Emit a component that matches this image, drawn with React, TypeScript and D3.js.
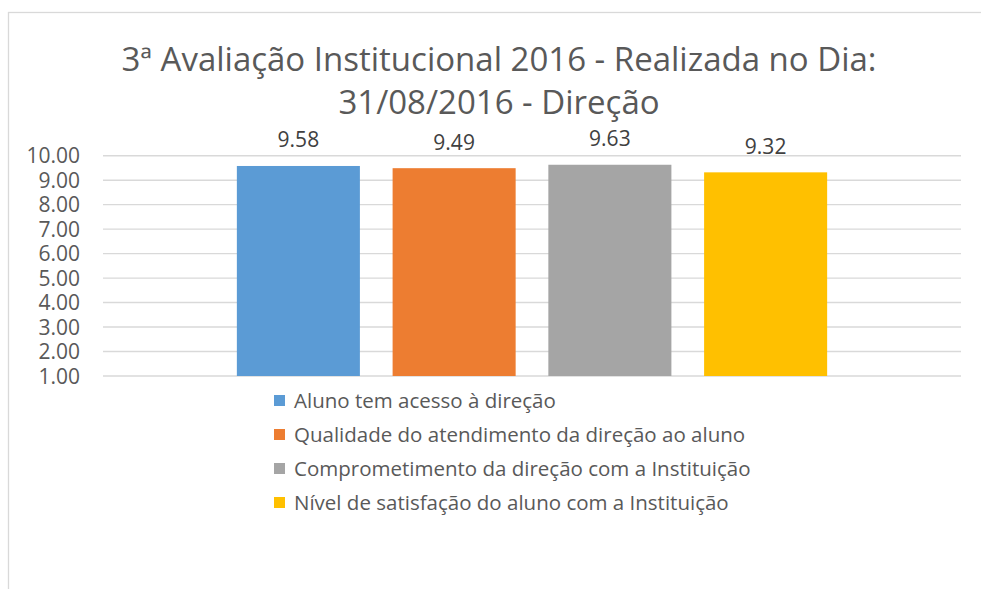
import React from 'react';
import { scaleBand, scaleLinear, range, format } from 'd3';

const titleLines = ['3ª Avaliação Institucional 2016 - Realizada no Dia:', '31/08/2016 - Direção'];
const seriesNames = [
    'Aluno tem acesso à direção',
    'Qualidade do atendimento da direção ao aluno',
    'Comprometimento da direção com a Instituição',
    'Nível de satisfação do aluno com a Instituição'
];
const seriesValues = [9.58, 9.49, 9.63, 9.32];
const seriesColors = ['#5B9BD5', '#ED7D31', '#A5A5A5', '#FFC000'];
const yTicks = range(1, 11);

const W = 981;
const H = 589;
const font = '"Open Sans", "Noto Sans", sans-serif';

const App = () => {
    const plotLeft = 103;
    const plotRight = 961;
    const plotTop = 155.7;
    const plotBottom = 376;

    const y = scaleLinear().domain([1, 10]).range([plotBottom, plotTop]);
    const x = scaleBand<string>()
        .domain(seriesNames)
        .range([220.5, 843.5])
        .paddingInner(0.21)
        .paddingOuter(0.105);
    const fmt = format('.2f');

    return (
        <svg width={W} height={H} style={{ position: 'absolute', left: 0, top: 0 }} fontFamily={font}>
            <rect x={0} y={0} width={W} height={H} fill="#fff" />
            <rect x={8.5} y={12.5} width={1100} height={700} fill="none" stroke="#d9d9d9" strokeWidth={1.3} />

            {/* title */}
            {titleLines.map((t, i) => (
                <text key={t} x={499} y={71 + i * 43} textAnchor="middle" fontSize={33} fill="#595959">{t}</text>
            ))}

            {/* gridlines + y ticks */}
            {yTicks.map((t) => (
                <g key={t}>
                    <line x1={plotLeft} x2={plotRight} y1={y(t)} y2={y(t)} stroke="#d9d9d9" strokeWidth={1.4} />
                    <text x={80} y={y(t)} dy="0.36em" textAnchor="end" fontSize={21} fill="#595959">{fmt(t)}</text>
                </g>
            ))}

            {/* bars */}
            {seriesNames.map((s, i) => (
                <g key={s}>
                    <rect
                        x={x(s)}
                        width={x.bandwidth()}
                        y={y(seriesValues[i])}
                        height={plotBottom - y(seriesValues[i])}
                        fill={seriesColors[i]}
                    />
                    <text
                        x={(x(s) as number) + x.bandwidth() / 2}
                        y={y(seriesValues[i]) - 18.5}
                        textAnchor="middle"
                        fontSize={21}
                        fill="#404040"
                    >
                        {seriesValues[i].toFixed(2)}
                    </text>
                </g>
            ))}

            {/* legend */}
            {seriesNames.map((s, i) => (
                <g key={s} transform={`translate(274, ${401 + i * 34})`}>
                    <rect x={0} y={-6} width={11} height={11} fill={seriesColors[i]} />
                    <text x={20} y={0} dy="0.36em" fontSize={20.5} fill="#595959">{s}</text>
                </g>
            ))}
        </svg>
    );
};

export default App;
